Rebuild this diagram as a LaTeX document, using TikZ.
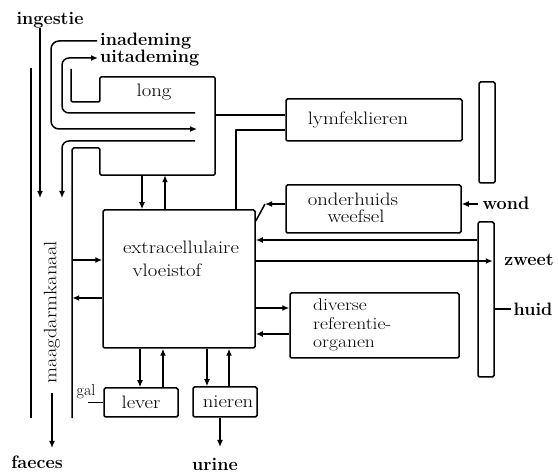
\documentclass[tikz,border=0pt]{standalone}
\usetikzlibrary{arrows.meta}
% box labels are set a little wider than the font's natural width
\newcommand\wide[1]{\scalebox{1.15}[1]{#1}}
\tikzset{
  wire/.style={line width=1.5pt, line join=round},
  thin wire/.style={line width=0.9pt},
  box/.style={draw, line width=1.5pt, rectangle, inner sep=0pt, rounded corners=1.5pt},
  frame/.style={inner sep=0pt},
  arr/.style={wire, -{Latex[length=7pt,width=6pt]}},
  boxtext/.style={font=\fontsize{18}{20}\selectfont, inner sep=0pt},
  listtext/.style={font=\fontsize{17}{19}\selectfont, inner sep=0pt, anchor=west},
  outtext/.style={font=\fontsize{18}{20}\selectfont\bfseries, inner sep=0pt},
  smalltext/.style={font=\fontsize{16}{18}\selectfont, inner sep=0pt},
}
\begin{document}
\begin{tikzpicture}[x=1pt,y=-1pt]
\useasboundingbox (0,0) rectangle (558,473);

% ---- organ boxes ----
\node[frame, minimum width=115pt, minimum height=98pt] (lung) at (157.5,126) {};
\node[box, minimum width=176pt, minimum height=42pt] (lymf) at (374,120) {};
\node[box, minimum width=175pt, minimum height=48pt] (onder) at (373.5,209) {};
\node[box, minimum width=152pt, minimum height=138pt] (ecf) at (179,279) {};
\node[box, minimum width=169pt, minimum height=65pt] (diverse) at (374.5,325.5) {};
\node[box, minimum width=74pt, minimum height=29pt] (lever) at (141,402.5) {};
\node[box, minimum width=64pt, minimum height=30pt] (nieren) at (225,402) {};
\node[box, minimum width=16pt, minimum height=101pt] (skinA) at (487,132.5) {};
\node[box, minimum width=16pt, minimum height=155pt] (skinB) at (486,299.5) {};
\node[frame, minimum width=41pt, minimum height=350pt] (gut) at (51.5,243) {};

% ---- labels ----
\node[boxtext] (longtxt) at (154,92) {\wide{long}};
\node[boxtext] (lymftxt) at (358,120) {\wide{lymfeklieren}};
\node[boxtext] (ondertxt) at (353,199) {\wide{onderhuids}};
\node[boxtext] (weefseltxt) at (356,216) {\wide{weefsel}};
\node[boxtext] (ecftxt1) at (181,247) {\wide{extracellulaire}};
\node[boxtext] (ecftxt2) at (167,270) {\wide{vloeistof}};
\node[listtext] (divtxt1) at (313,305) {\wide{diverse}};
\node[listtext] (divtxt2) at (313,324) {\wide{referentie-}};
\node[listtext] (divtxt3) at (313,345) {\wide{organen}};
\node[boxtext] (levertxt) at (141,402) {\wide{lever}};
\node[boxtext] (nierentxt) at (228,402) {\wide{nieren}};
\node[boxtext, rotate=90] (maag) at (52,312) {\wide{maagdarmkanaal}};
\node[smalltext] (gal) at (86,392) {gal};

\node[outtext] (ingestie) at (50,20) {ingestie};
\node[outtext, anchor=west] (inadem) at (100,41) {inademing};
\node[outtext, anchor=west] (uitadem) at (100,58) {uitademing};
\node[outtext] (wond) at (506,203) {wond};
\node[outtext] (zweet) at (529,260) {zweet};
\node[outtext] (huid) at (533,309) {huid};
\node[outtext] (faeces) at (37,462) {faeces};
\node[outtext] (urine) at (215,464) {urine};

% ---- free ends ----
\coordinate (inTip) at (40,198);
\coordinate (lungOutTip) at (62,198);
\coordinate (airIn) at (197,129);
\coordinate (airOut) at (195,113);
\coordinate (airDown) at (195,141);
\coordinate (bend) at (265,204);
\coordinate (faecesTip) at (52,448);
\coordinate (urineTip) at (220,447);
\coordinate (galEnd) at (88,402);

% ---- lung outline with the airway notch, and the gut channel ----
\draw[wire, rounded corners=1.5pt] (71,69) -- (71,102) -- (100,102) -- (lung.north west)
  -- (lung.north east) -- (lung.south east) -- (lung.south west) -- (100,148)
  -- (gut.east |- 0,148) -- (gut.south east);
\draw[wire] (gut.north west) -- (gut.south west);

% ---- airways ----
\draw[arr, rounded corners=8pt] ([xshift=-3pt]inadem.west) -- (51,41) -- (51,129) -- (airIn);
\draw[arr, rounded corners=7pt] (airOut) -- (62,113) -- (62,58) -- ([xshift=-2pt]uitadem.west);
\draw[arr, rounded corners=7pt] (airDown) -- (62,141) -- (lungOutTip);

% ---- digestive tract ----
\draw[arr] (ingestie.south -| inTip) -- (inTip);
\draw[arr] ([yshift=-10pt]maag.west) -- (faecesTip);
\draw[arr] (gut.east |- 0,260) -- (ecf.west |- 0,260);
\draw[arr] (ecf.west |- 0,298) -- (gut.east |- 0,298);
\draw[thin wire] (galEnd) -- (lever.west |- galEnd);

% ---- lung, lymph nodes ----
\draw[wire] (lung.east |- 0,115) -- (lymf.west |- 0,115);
\draw[wire] (lymf.west |- 0,130) -| (ecf.north -| 236,0);
\draw[arr] (lung.south -| 142,0) -- (ecf.north -| 142,0);
\draw[arr] (ecf.north -| 165,0) -- (lung.south -| 165,0);

% ---- subcutaneous tissue, skin ----
\draw[arr] (onder.west |- bend) -- (bend);
\draw[wire] (bend) -- (ecf.east |- 0,221);
\draw[arr] ([xshift=-4pt]wond.west |- 0,204) -- (onder.east |- 0,204);
\draw[arr] (skinB.west |- 0,240) -- (ecf.east |- 0,240);
\draw[arr] (ecf.east |- 0,261) -- ([xshift=-2pt]skinB.east |- 0,261);
\draw[wire] (skinB.east |- 0,309) -- ([xshift=-2pt]huid.west);

% ---- reference organs ----
\draw[arr] (ecf.east |- 0,308) -- (diverse.west |- 0,308);
\draw[arr] (diverse.west |- 0,334) -- (ecf.east |- 0,334);

% ---- liver, kidneys ----
\draw[arr] (ecf.south -| 140,0) -- (lever.north -| 140,0);
\draw[arr] (lever.north -| 163,0) -- (ecf.south -| 163,0);
\draw[arr] (ecf.south -| 207,0) -- (nieren.north -| 207,0);
\draw[arr] (nieren.north -| 229,0) -- (ecf.south -| 229,0);
\draw[arr] (nieren.south -| urineTip) -- (urineTip);
\end{tikzpicture}
\end{document}
